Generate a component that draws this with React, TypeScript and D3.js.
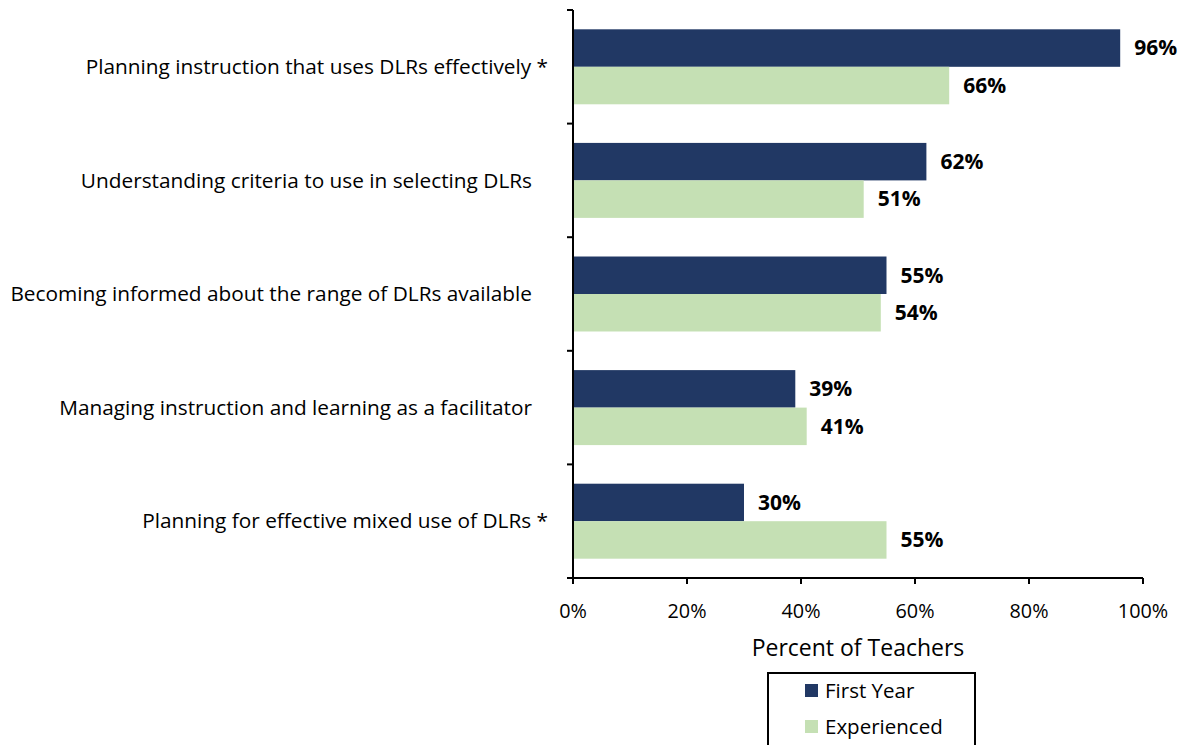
import React from "react";
import * as d3 from "d3";

const categories = [
  "Planning instruction that uses DLRs effectively *",
  "Understanding criteria to use in selecting DLRs",
  "Becoming informed about the range of DLRs available",
  "Managing instruction and learning as a facilitator",
  "Planning for effective mixed use of DLRs *",
];
const firstYear = [96, 62, 55, 39, 30];
const experienced = [66, 51, 54, 41, 55];
const seriesNames = ["First Year", "Experienced"];
const xTicks = [0, 20, 40, 60, 80, 100];

const W = 1188;
const H = 745;
const left = 573;
const right = 1143;
const top = 10;
const bottom = 578;
const colors = ["#213864", "#C5E0B4"];
const font = "'Open Sans', sans-serif";

export default function App() {
  const x = d3.scaleLinear().domain([0, 100]).range([left, right]);
  const y = d3.scaleBand<string>().domain(categories).range([top, bottom]).paddingInner(0).paddingOuter(0);
  const bw = y.bandwidth();
  const inner = d3.scaleBand<string>().domain(seriesNames).range([0, bw]).paddingInner(0).paddingOuter(0.515);
  const series = [firstYear, experienced];

  return (
    <svg width={W} height={H} style={{ position: "absolute", left: 0, top: 0, background: "#fff" }} fontFamily={font}>
      {categories.map((c, i) => (
        <g key={c}>
          {series.map((s, si) => {
            const yy = (y(c) as number) + (inner(seriesNames[si]) as number);
            const h = inner.bandwidth();
            return (
              <g key={si}>
                <rect x={x(0)} y={yy} width={x(s[i]) - x(0)} height={h} fill={colors[si]} />
                <text x={x(s[i]) + 14} y={yy + h / 2} dy="0.35em" fontSize={21} fontWeight="bold" fill="#000">
                  {s[i]}%
                </text>
              </g>
            );
          })}
          <text
            x={c.endsWith("*") ? 548 : 532}
            y={(y(c) as number) + bw / 2}
            dy="0.35em"
            textAnchor="end"
            fontSize={20.8}
            fill="#000"
          >
            {c}
          </text>
        </g>
      ))}
      {/* y axis */}
      <line x1={left} x2={left} y1={top} y2={bottom} stroke="#000" strokeWidth={2} />
      {d3.range(categories.length + 1).map((k) => {
        const yy = top + k * bw;
        return <line key={k} x1={left - 6} x2={left} y1={yy} y2={yy} stroke="#000" strokeWidth={2} />;
      })}
      {/* x axis */}
      <line x1={left} x2={right} y1={bottom} y2={bottom} stroke="#000" strokeWidth={2} />
      {xTicks.map((t) => (
        <g key={t}>
          <line x1={x(t)} x2={x(t)} y1={bottom} y2={bottom + 6} stroke="#000" strokeWidth={2} />
          <text x={x(t)} y={bottom + 33} dy="0.35em" textAnchor="middle" fontSize={19.8} fill="#000">
            {t}%
          </text>
        </g>
      ))}
      <text x={(left + right) / 2} y={648} dy="0.35em" textAnchor="middle" fontSize={23} fill="#000">
        Percent of Teachers
      </text>
      {/* legend */}
      <rect x={768} y={673} width={207} height={80} fill="none" stroke="#000" strokeWidth={2} />
      {seriesNames.map((n, i) => (
        <g key={n}>
          <rect x={805} y={684 + i * 36} width={13} height={13} fill={colors[i]} />
          <text x={825} y={691 + i * 36} dy="0.35em" fontSize={20.5} fill="#000">
            {n}
          </text>
        </g>
      ))}
    </svg>
  );
}
